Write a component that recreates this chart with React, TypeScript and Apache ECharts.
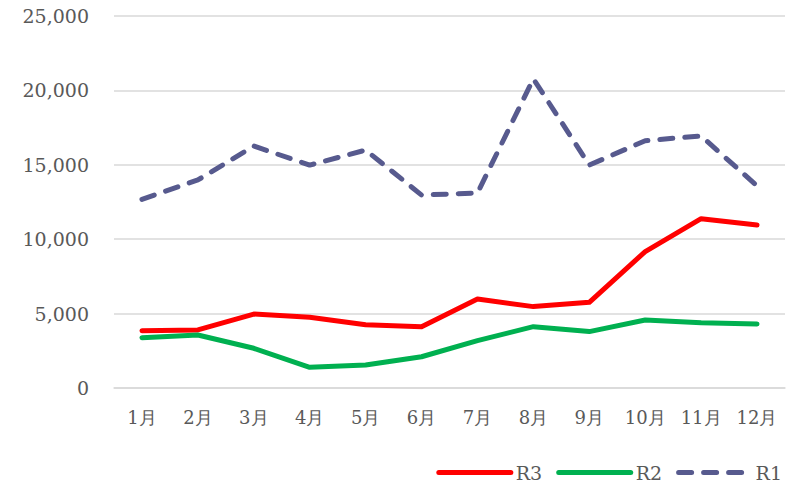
import React, { useEffect, useRef } from "react";
import * as echarts from "echarts";

const categories = ["1月", "2月", "3月", "4月", "5月", "6月", "7月", "8月", "9月", "10月", "11月", "12月"];
const r3Values = [3850, 3900, 4970, 4750, 4250, 4120, 5980, 5470, 5760, 9170, 11380, 10950];
const r2Values = [3380, 3560, 2670, 1390, 1540, 2100, 3180, 4120, 3790, 4570, 4390, 4300];
const r1Values = [12680, 13980, 16260, 14980, 15990, 12970, 13100, 20780, 14980, 16620, 16940, 13580];
const yTicks = [0, 5000, 10000, 15000, 20000, 25000];

const FONT = "'DejaVu Serif', Georgia, serif";

export default function App() {
  const ref = useRef<HTMLDivElement>(null);
  useEffect(() => {
    if (!ref.current) return;
    const chart = echarts.init(ref.current, undefined, { renderer: "svg" });
    chart.setOption({
      animation: false,
      backgroundColor: "#ffffff",
      textStyle: { fontFamily: FONT },
      grid: { left: 114, right: 4, top: 16, bottom: 99, containLabel: false },
      legend: {
        top: 458,
        right: 2,
        itemWidth: 72,
        itemHeight: 14,
        itemGap: 14,
        itemStyle: { opacity: 0 },
        lineStyle: { width: 5, cap: "round" },
        textStyle: { color: "#595959", fontSize: 19, fontFamily: FONT },
        data: ["R3", "R2", "R1"],
      },
      xAxis: {
        type: "category",
        data: categories,
        boundaryGap: true,
        axisLine: { show: true, lineStyle: { color: "#d9d9d9", width: 1.5 } },
        axisTick: { show: false },
        axisLabel: { color: "#595959", fontSize: 18, fontFamily: FONT, margin: 20, interval: 0 },
      },
      yAxis: {
        type: "value",
        min: yTicks[0],
        max: yTicks[yTicks.length - 1],
        interval: 5000,
        axisLine: { show: false },
        axisTick: { show: false },
        splitLine: { lineStyle: { color: "#d9d9d9", width: 1.5 } },
        axisLabel: {
          color: "#595959",
          fontSize: 19,
          fontFamily: FONT,
          margin: 25,
          formatter: (v: number) => v.toLocaleString("en-US"),
        },
      },
      series: [
        {
          name: "R3",
          type: "line",
          data: r3Values,
          symbol: "none",
          color: "#ff0000",
          lineStyle: { color: "#ff0000", width: 5, cap: "round", join: "round" },
        },
        {
          name: "R2",
          type: "line",
          data: r2Values,
          symbol: "none",
          color: "#00b050",
          lineStyle: { color: "#00b050", width: 5, cap: "round", join: "round" },
        },
        {
          name: "R1",
          type: "line",
          data: r1Values,
          symbol: "none",
          color: "#575a8e",
          lineStyle: { color: "#575a8e", width: 5, type: [13, 12], cap: "round", join: "round" },
        },
      ],
    });
    return () => chart.dispose();
  }, []);
  return <div ref={ref} style={{ width: 789, height: 487, position: "absolute", left: 0, top: 0 }} />;
}
